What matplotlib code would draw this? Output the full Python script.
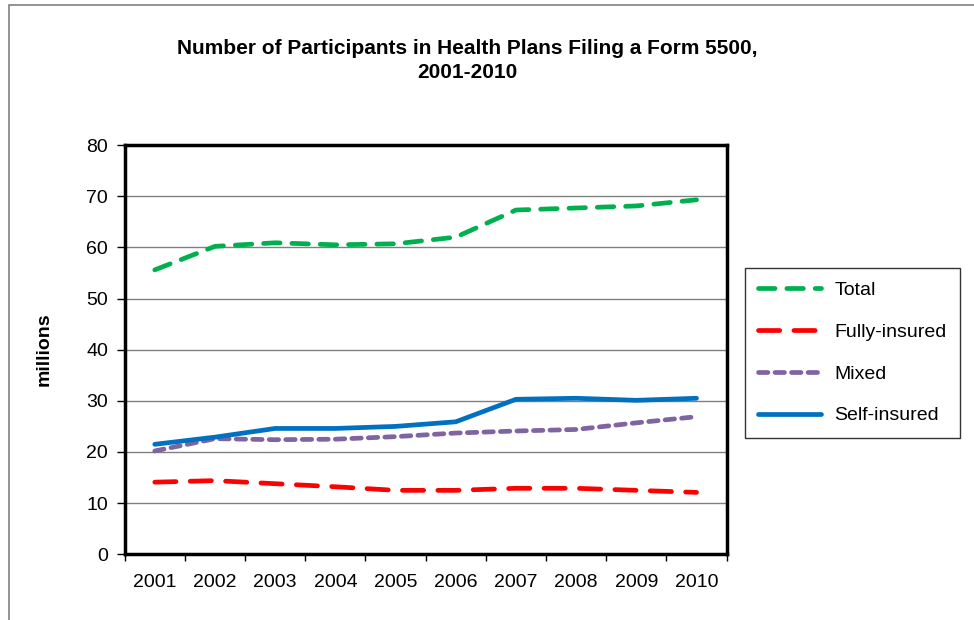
import matplotlib.pyplot as plt
from matplotlib.patches import Rectangle
import numpy as np

plt.rcParams['font.family'] = ['Liberation Sans', 'DejaVu Sans']

years = ['2001', '2002', '2003', '2004', '2005', '2006', '2007', '2008', '2009', '2010']
total = [55.6, 60.2, 60.9, 60.5, 60.7, 62.0, 67.3, 67.7, 68.1, 69.3]
fully_insured = [14.1, 14.4, 13.8, 13.2, 12.5, 12.5, 12.9, 12.9, 12.5, 12.1]
mixed = [20.2, 22.6, 22.4, 22.5, 23.0, 23.7, 24.1, 24.4, 25.7, 26.9]
self_insured = [21.5, 22.9, 24.6, 24.6, 25.0, 25.9, 30.3, 30.5, 30.1, 30.5]

fig = plt.figure(figsize=(9.74, 6.2), dpi=100)
# chart-area border (only left and top edges show in the crop)
fig.patches.append(Rectangle((0.009, -0.05), 1.1, 1.042, transform=fig.transFigure,
                             fill=False, edgecolor='#808080', linewidth=1.2))
ax = fig.add_axes([0.128, 0.106, 0.618, 0.660])

x = np.arange(len(years))
lw = 3.4
ax.plot(x, total, color='#00B050', linewidth=lw, dashes=(3.5, 2.5),
        dash_capstyle='round', label='Total')
ax.plot(x, fully_insured, color='#FF0000', linewidth=lw, dashes=(4.5, 3),
        dash_capstyle='round', label='Fully-insured')
ax.plot(x, mixed, color='#8064A2', linewidth=lw, dashes=(2, 1.5),
        dash_capstyle='round', label='Mixed')
ax.plot(x, self_insured, color='#0070C0', linewidth=lw,
        solid_capstyle='round', label='Self-insured')

ax.set_xlim(-0.5, len(years) - 0.5)
ax.set_ylim(0, 80)
ax.set_yticks(range(0, 81, 10))
ax.set_xticks(x)
ax.set_xticklabels(years)
ax.set_xticks(np.arange(-0.5, len(years)), minor=True)
ax.tick_params(axis='x', which='major', length=0, labelsize=14, pad=14)
ax.tick_params(axis='x', which='minor', length=5, width=1, direction='out')
ax.tick_params(axis='y', length=6, width=1, direction='out', labelsize=14, pad=6)
ax.yaxis.grid(True, color='#808080', linewidth=1)
ax.set_axisbelow(True)
for s in ax.spines.values():
    s.set_linewidth(2.5)
    s.set_color('black')

ax.set_ylabel('millions', fontsize=14, fontweight='bold', labelpad=24)

fig.text(0.48, 0.903, 'Number of Participants in Health Plans Filing a Form 5500,\n2001-2010',
         ha='center', va='center', fontsize=15, fontweight='bold', linespacing=1.35)

leg = fig.legend(loc='upper left', bbox_to_anchor=(0.765, 0.568), borderaxespad=0,
                 fontsize=14, frameon=True, fancybox=False, edgecolor='black',
                 handlelength=3.2, labelspacing=1.25, borderpad=0.68, handletextpad=0.7)
leg.get_frame().set_linewidth(1)

fig.savefig('out.png', dpi=100)
